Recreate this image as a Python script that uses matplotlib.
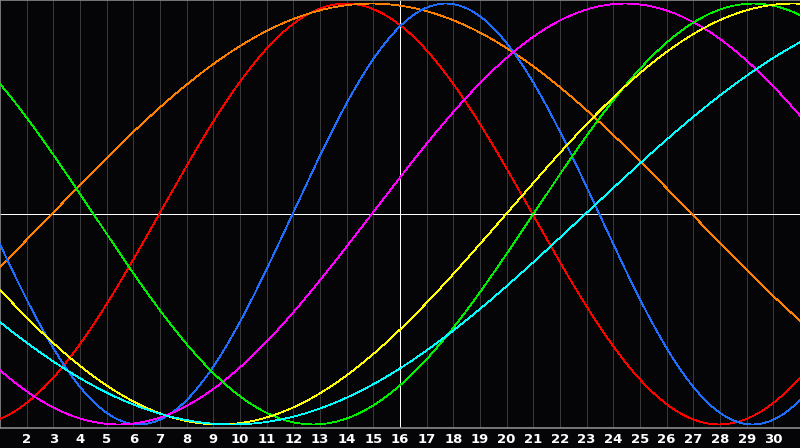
import numpy as np
import matplotlib
matplotlib.use("Agg")
import matplotlib.pyplot as plt

# days of the month shown on the axis
days = list(range(2, 31))
today = 16

# cycle colours, period in days and the day the cycle crosses zero going up
cycle_colors = ["#ff0000", "#ff8000", "#1e6eff", "#ff00ff", "#00ee00", "#ffff00", "#00ffff"]
cycle_periods = [28, 48, 23, 38, 33, 43, 53]
cycle_rising_day = [6.97, 2.94, 11.97, 14.94, 21.0, 19.98, 22.95]

BG = "#050508"
GRID = "#383838"
FRAME = "#8a8a8a"

fig = plt.figure(figsize=(8, 4.48), dpi=100, facecolor=BG)
ax = fig.add_axes([0, 20 / 448, 1, 428 / 448])
ax.set_facecolor(BG)

t = np.linspace(1, 31, 1201)
for col, per, d0 in zip(cycle_colors, cycle_periods, cycle_rising_day):
    ax.plot(t, np.sin(2 * np.pi * (t - d0) / per), color=col, lw=0.55,
            antialiased=False, zorder=3)

for d in days:
    c = "white" if d == today else GRID
    ax.axvline(d, color=c, lw=0.55, antialiased=False, zorder=2 if d == today else 1)
ax.axhline(0, color="white", lw=0.55, antialiased=False, zorder=2)

ax.set_xlim(1, 31)
ax.set_ylim(-1.017, 1.017)
ax.set_yticks([])
ax.set_xticks(days)
ax.set_xticklabels([str(d) for d in days], color="white", fontsize=9.5,
                   fontweight="bold")
ax.tick_params(axis="x", length=0, pad=3.5)
for s in ["left", "top", "bottom"]:
    ax.spines[s].set_color(FRAME)
    ax.spines[s].set_linewidth(1.2)
ax.spines["right"].set_visible(False)

fig.savefig("out.png", dpi=100, facecolor=BG)
